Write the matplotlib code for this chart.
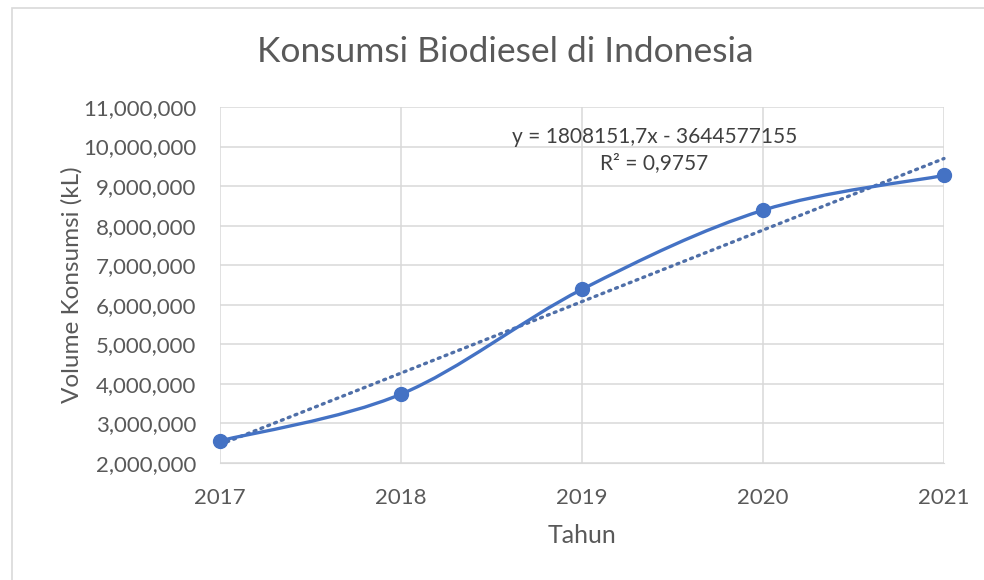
import numpy as np
import matplotlib.pyplot as plt
from matplotlib.patches import Rectangle
from matplotlib.path import Path
from matplotlib.patches import PathPatch

# Data
years = [2017, 2018, 2019, 2020, 2021]
volume = [2560000, 3740000, 6390000, 8390000, 9270000]
trend_slope = 1808151.7
trend_intercept = -3644577155
trend_label = "y = 1808151,7x - 3644577155\nR² = 0,9757"

title = "Konsumsi Biodiesel di Indonesia"
x_label = "Tahun"
y_label = "Volume Konsumsi (kL)"

blue = "#4472C4"
grey_text = "#595959"
grid_col = "#d9d9d9"

plt.rcParams['font.family'] = ['Lato', 'DejaVu Sans']

fig = plt.figure(figsize=(9.84, 5.80), dpi=100)
fig.patch.set_facecolor('white')
# chart area border (only top/left visible in original crop)
fig.patches.append(Rectangle((12 / 984, -0.1), 1.2, (580 - 8) / 580 + 0.1,
                             transform=fig.transFigure, fill=False,
                             edgecolor='#d9d9d9', linewidth=1.2))

ax = fig.add_axes([220 / 984, (580 - 463) / 580, (944 - 220) / 984, (463 - 107) / 580])


# Excel-style smoothed line (Catmull-Rom as cubic Bezier)
def smooth_path(xs, ys, tension=1 / 6):
    pts = np.column_stack([xs, ys]).astype(float)
    verts = [pts[0]]
    codes = [Path.MOVETO]
    n = len(pts)
    for i in range(n - 1):
        p0 = pts[i - 1] if i > 0 else pts[i]
        p1 = pts[i]
        p2 = pts[i + 1]
        p3 = pts[i + 2] if i + 2 < n else pts[i + 1]
        c1 = p1 + (p2 - p0) * tension
        c2 = p2 - (p3 - p1) * tension
        verts += [c1, c2, p2]
        codes += [Path.CURVE4] * 3
    return Path(verts, codes)


ax.add_patch(PathPatch(smooth_path(years, volume), facecolor='none',
                       edgecolor=blue, linewidth=2.4, zorder=3,
                       capstyle='round', joinstyle='round', clip_on=False))
ax.plot(years, volume, linestyle='none', marker='o', markersize=10,
        color=blue, zorder=4, clip_on=False)

tx = np.array([years[0], years[-1]])
ax.plot(tx, trend_slope * tx + trend_intercept, color='#4f6fa8',
        linewidth=2.4, linestyle=(0, (0.6, 1.6)), dash_capstyle='round',
        zorder=2, clip_on=False)

ax.text(2019.4, 9910000, trend_label, ha='center', va='center',
        fontsize=15, color='#404040', linespacing=1.4)

ax.set_xlim(2017, 2021)
ax.set_ylim(2000000, 11000000)
ax.set_xticks(years)
ax.set_yticks(np.arange(2000000, 11000001, 1000000))
ax.yaxis.set_major_formatter(plt.FuncFormatter(lambda v, p: f"{int(v):,}"))
ax.grid(True, color=grid_col, linewidth=1.1)
ax.set_axisbelow(True)
for s in ax.spines.values():
    s.set_visible(False)
ax.spines['bottom'].set_visible(True)
ax.spines['bottom'].set_color(grid_col)
ax.tick_params(length=0, labelsize=16, labelcolor=grey_text, pad=17)
ax.tick_params(axis='x', pad=18)

ax.set_xlabel(x_label, fontsize=18, color=grey_text)
ax.set_ylabel(y_label, fontsize=17.5, color=grey_text)
ax.xaxis.set_label_coords(0.5, -0.17)
ax.yaxis.set_label_coords(-0.19, 0.5)
fig.text(505 / 984, 1 - 52 / 580, title, ha='center', va='center',
         fontsize=25.5, color=grey_text)

fig.savefig('out.png', dpi=100)
